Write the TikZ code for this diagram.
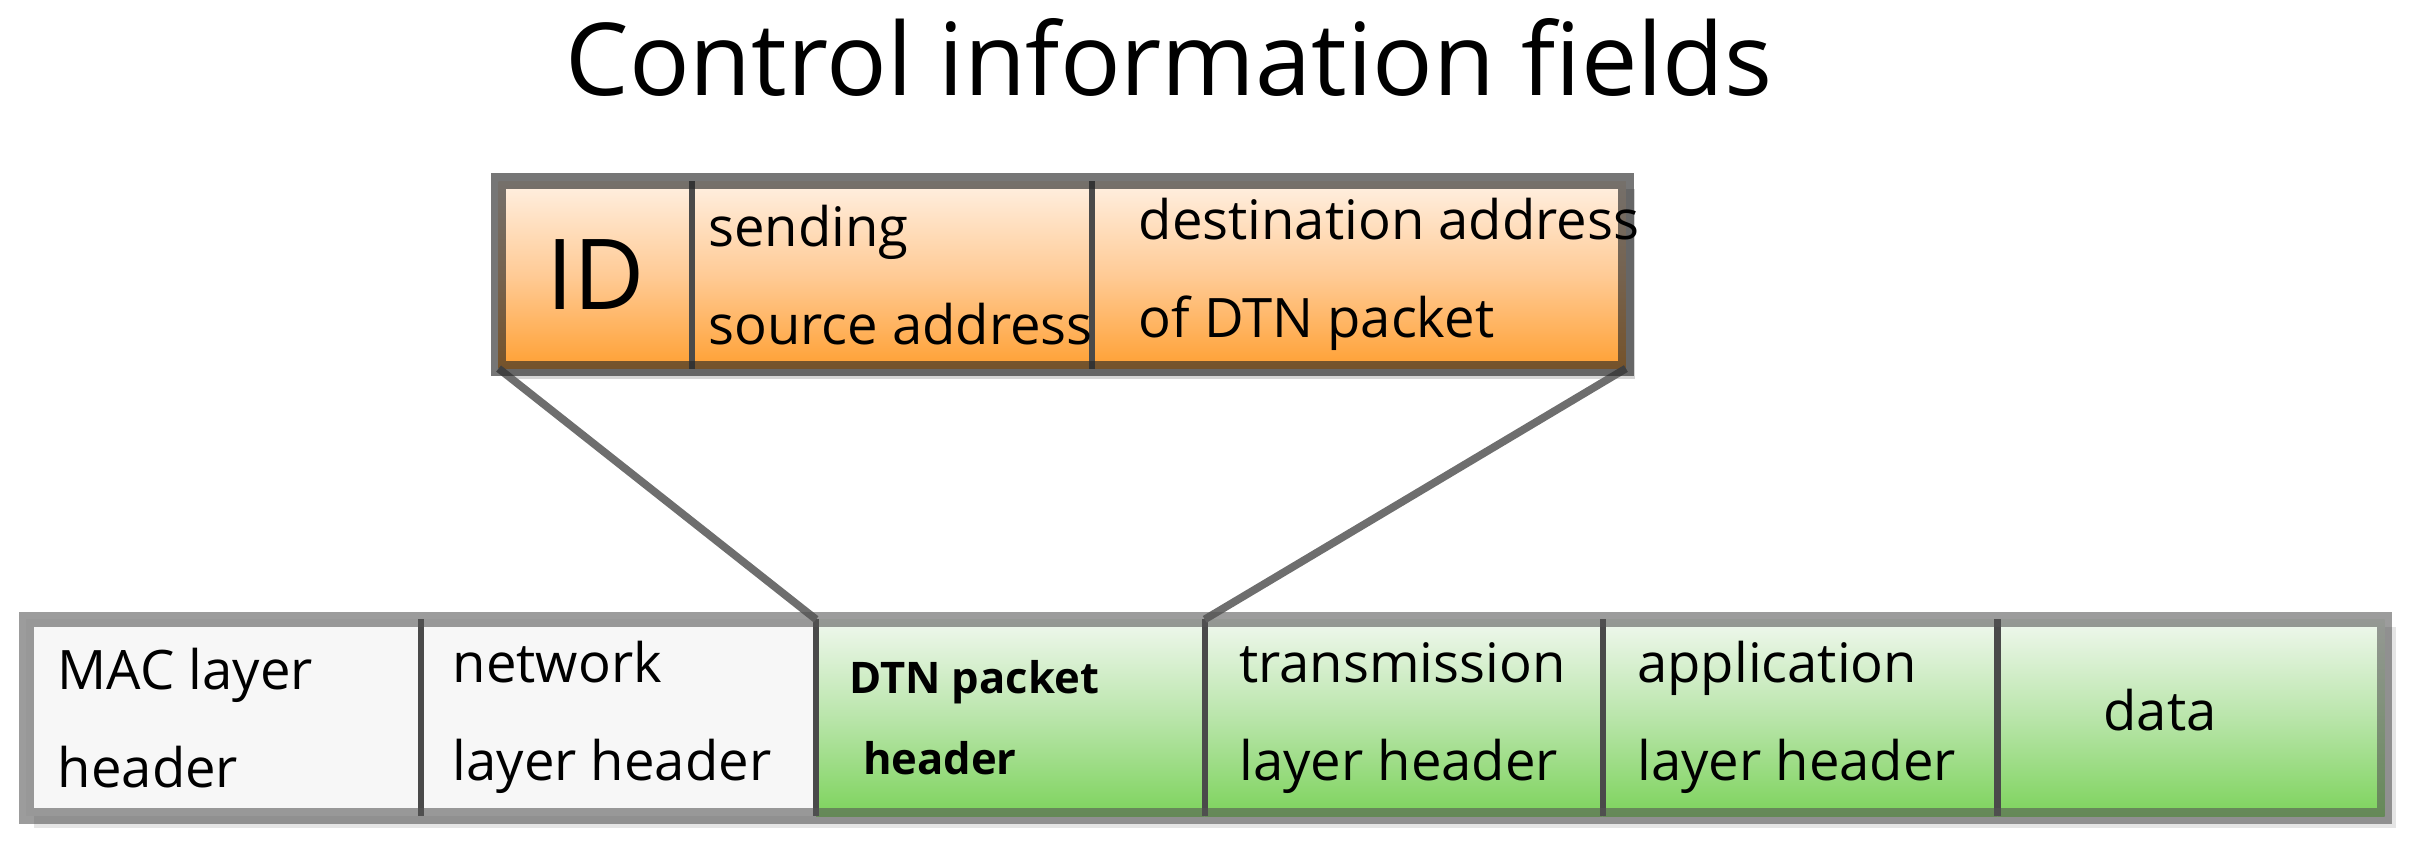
\documentclass[tikz,border=0pt]{standalone}
\usepackage{fontspec}
\setmainfont{Open Sans}
\usetikzlibrary{positioning}
\definecolor{orangetop}{HTML}{FFF0E2}
\definecolor{orangemid}{HTML}{FFCB96}
\definecolor{orangebot}{HTML}{FFA033}
\definecolor{greentop}{HTML}{F0F8EE}
\definecolor{greenmid}{HTML}{B9E5AA}
\definecolor{greenbot}{HTML}{7DD35C}
\definecolor{plainfill}{HTML}{F7F7F7}
\definecolor{divgray}{HTML}{4A4A4A}
\definecolor{linkgray}{HTML}{6E6E6E}

\begin{document}
\begin{tikzpicture}[
    node distance=0pt,
    topcell/.style={minimum height=2.42cm, inner sep=0pt, outer sep=0pt,
        top color=orangetop, bottom color=orangebot, middle color=orangemid},
    plaincell/.style={minimum height=2.54cm, inner sep=0pt, outer sep=0pt, fill=plainfill},
    greencell/.style={minimum height=2.54cm, inner sep=0pt, outer sep=0pt,
        top color=greentop, bottom color=greenbot, middle color=greenmid},
    lbl/.style={align=left, inner sep=0pt, anchor=west, font=\fontsize{20pt}{36pt}\selectfont},
    divider/.style={divgray, line width=0.08cm},
    link/.style={linkgray, line width=0.1cm},
    topframe/.style={draw=black!85, draw opacity=0.63, line width=0.2cm},
    lowframe/.style={draw=black!67, draw opacity=0.58, line width=0.2cm}
]
    \useasboundingbox (0,0) rectangle (31.36,10.92);

    \node[font=\fontsize{37pt}{40pt}\selectfont, anchor=base] (title) at (15.1,9.68) {Control information fields};

    % shadows
    \fill[black!16] (6.54,6.02) rectangle (21.12,8.48);
    \fill[black!10] (0.44,0.22) rectangle (30.94,2.82);

    % control fields
    \node[topcell, minimum width=2.5cm, anchor=north west] (id) at (6.44,8.58) {};
    \node[topcell, minimum width=5.16cm, right=of id] (send) {};
    \node[topcell, minimum width=6.9cm, right=of send] (dest) {};

    % packet
    \node[plaincell, minimum width=5.1cm, anchor=north west] (mac) at (0.34,2.92) {};
    \node[plaincell, minimum width=5.1cm, right=of mac] (net) {};
    \node[greencell, minimum width=5.02cm, right=of net] (dtn) {};
    \node[greencell, minimum width=5.14cm, right=of dtn] (trans) {};
    \node[greencell, minimum width=5.1cm, right=of trans] (app) {};
    \node[greencell, minimum width=5.0cm, right=of app] (data) {};

    \draw[divider] (id.north east) -- (id.south east);
    \draw[divider] (send.north east) -- (send.south east);
    \draw[divider] (mac.north east) -- (mac.south east);
    \draw[divider] (net.north east) -- (net.south east);
    \draw[divider] (dtn.north east) -- (dtn.south east);
    \draw[divider] (trans.north east) -- (trans.south east);
    \draw[divider] (app.north east) -- (app.south east);

    \draw[link] (id.south west) -- (dtn.north west);
    \draw[link] (dest.south east) -- (trans.north west);

    \draw[topframe] (id.north west) rectangle (dest.south east);
    \draw[lowframe] (mac.north west) rectangle (data.south east);

    % texts
    \node[font=\fontsize{36pt}{40pt}\selectfont] (id-t) at (id.center) {ID};
    \node[lbl] (send-t) at ([xshift=0.2cm]send.west) {sending\\source address};
    \node[lbl] (dest-t) at ([xshift=0.6cm]dest.west) {destination address\\of DTN packet};

    \node[lbl] (mac-t) at ([xshift=0.4cm]mac.west) {MAC layer\\header};
    \node[lbl] (net-t) at ([xshift=0.4cm]net.west) {network\\layer header};
    \node[lbl, font=\fontsize{16pt}{30pt}\selectfont\bfseries] (dtn-t) at ([xshift=0.42cm]dtn.west) {DTN packet\\\hspace{0.18cm}header};
    \node[lbl] (trans-t) at ([xshift=0.44cm]trans.west) {transmission\\layer header};
    \node[lbl] (app-t) at ([xshift=0.44cm]app.west) {application\\layer header};
    \node[font=\fontsize{20pt}{24pt}\selectfont] (data-t) at ([xshift=-0.4cm,yshift=0.1cm]data.center) {data};
\end{tikzpicture}
\end{document}
